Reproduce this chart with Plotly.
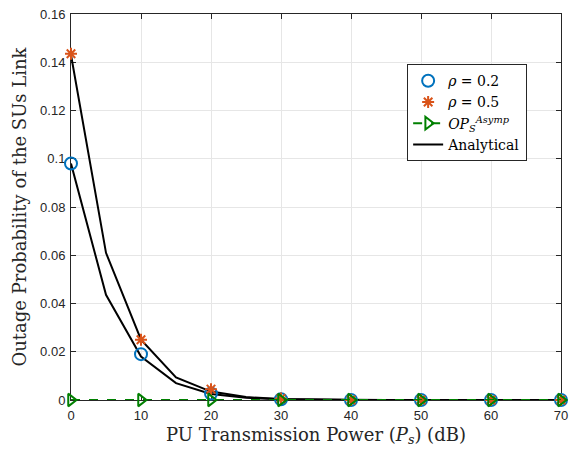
import plotly.graph_objects as go

x_marker = [0, 10, 20, 30, 40, 50, 60, 70]
rho02_sim = [0.098, 0.019, 0.0027, 0.0003, 0.00002, 0.0, 0.0, 0.0]
rho05_sim = [0.1435, 0.025, 0.0045, 0.0006, 0.00003, 0.0, 0.0, 0.0]
asymp = [0.0, 0.0, 0.0, 0.0, 0.0, 0.0, 0.0, 0.0]

x_line = [0, 5, 10, 15, 20, 25, 30, 35, 40, 45, 50, 55, 60, 65, 70]
rho02_ana = [0.098, 0.0436, 0.018, 0.0070, 0.0025, 0.0009, 0.0003, 0.0001, 0.00003, 0.00001, 0.0, 0.0, 0.0, 0.0, 0.0]
rho05_ana = [0.143, 0.061, 0.025, 0.0094, 0.0035, 0.0012, 0.0004, 0.00015, 0.00005, 0.00002, 0.0, 0.0, 0.0, 0.0, 0.0]

y_ticks = [0, 0.02, 0.04, 0.06, 0.08, 0.1, 0.12, 0.14, 0.16]
y_ticktext = ["0", "0.02", "0.04", "0.06", "0.08", "0.1", "0.12", "0.14", "0.16"]
x_ticks = [0, 10, 20, 30, 40, 50, 60, 70]

fig = go.Figure()
fig.add_trace(go.Scatter(x=x_line, y=rho02_ana, mode="lines", line=dict(color="black", width=2),
                         showlegend=False, cliponaxis=False))
fig.add_trace(go.Scatter(x=x_line, y=rho05_ana, mode="lines", line=dict(color="black", width=2),
                         name="Analytical", showlegend=False, cliponaxis=False))
fig.add_trace(go.Scatter(x=x_marker, y=rho02_sim, mode="markers", name="<i>ρ</i> = 0.2", cliponaxis=False,
                         marker=dict(symbol="circle-open", size=12, color="#0072BD", line=dict(width=2))))
fig.add_trace(go.Scatter(x=x_marker, y=rho05_sim, mode="markers", name="<i>ρ</i> = 0.5", cliponaxis=False,
                         marker=dict(symbol="asterisk-open", size=10, color="#D95319", line=dict(width=2, color="#D95319"))))
fig.add_trace(go.Scatter(x=x_marker, y=asymp, mode="lines+markers", cliponaxis=False,
                         name="<i>OP</i><sub><i>S</i></sub><sup><i>Asymp</i></sup>",
                         line=dict(color="#008000", width=2, dash="dash"),
                         marker=dict(symbol="triangle-right-open", size=11, color="#008000", line=dict(width=2))))
fig.add_trace(go.Scatter(x=[None], y=[None], mode="lines", line=dict(color="black", width=2),
                         name="Analytical"))

fig.update_layout(
    width=575, height=453,
    margin=dict(l=71, r=8, t=7, b=53),
    paper_bgcolor="white", plot_bgcolor="white",
    font=dict(family="Liberation Sans", size=13, color="#262626"),
    legend=dict(x=0.686, y=0.87, xanchor="left", yanchor="top",
                bordercolor="#262626", borderwidth=1, bgcolor="white",
                font=dict(family="DejaVu Serif", size=14, color="black"),
                tracegroupgap=0),
    xaxis=dict(range=[0, 70], tickvals=x_ticks, showgrid=True, gridcolor="#e6e6e6",
               ticks="inside", ticklen=5, tickcolor="#262626", showline=True, linecolor="#262626",
               mirror="ticks", zeroline=False, layer="below traces", ticklabelstandoff=3,
               title=dict(text="PU Transmission Power (<i>P<sub>s</sub></i>) (dB)",
                          font=dict(family="DejaVu Serif", size=18, color="#262626"), standoff=6)),
    yaxis=dict(range=[0, 0.16], tickvals=y_ticks, ticktext=y_ticktext, showgrid=True, gridcolor="#e6e6e6",
               ticks="inside", ticklen=5, tickcolor="#262626", showline=True, linecolor="#262626",
               mirror="ticks", zeroline=False, layer="below traces", ticklabelstandoff=2,
               title=dict(text="Outage Probability of the SUs Link",
                          font=dict(family="DejaVu Serif", size=18, color="#262626"), standoff=8)),
)

fig.write_html("out.html", config={"displayModeBar": False},
               post_script="document.body.style.margin='0';")
